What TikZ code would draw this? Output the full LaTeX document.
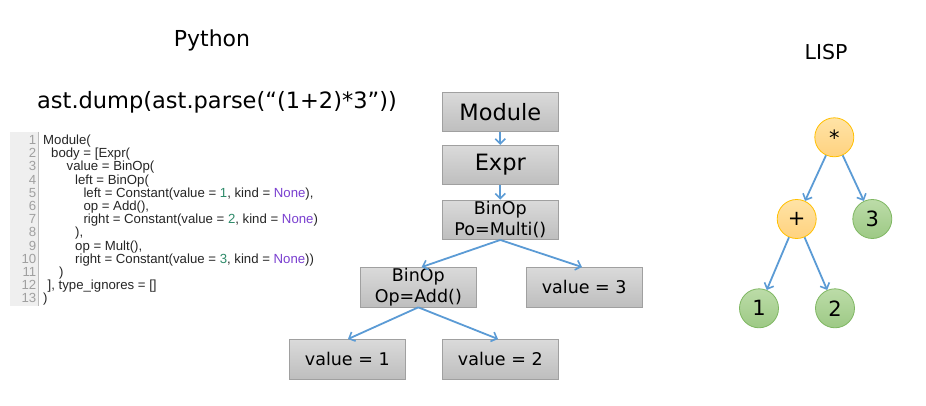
\documentclass[tikz,border=0pt]{standalone}
\usepackage{fontspec}
\setmainfont{DejaVu Sans}
\newfontfamily\codefont{Liberation Sans}
\usetikzlibrary{arrows.meta}
\definecolor{arr}{HTML}{5B9BD5}
\definecolor{boxtop}{HTML}{DADADA}
\definecolor{boxbot}{HTML}{BEBEBE}
\definecolor{boxline}{HTML}{A0A0A0}
\definecolor{ortop}{HTML}{FFE3A6}
\definecolor{orbot}{HTML}{FFD27F}
\definecolor{orline}{HTML}{FFC000}
\definecolor{grtop}{HTML}{BCDCA8}
\definecolor{grbot}{HTML}{9DC985}
\definecolor{grline}{HTML}{7FB762}
\definecolor{numgreen}{HTML}{2E8B6A}
\definecolor{nonepurple}{HTML}{7A3FD0}
\definecolor{lnum}{HTML}{A0A0A0}
\definecolor{gutter}{HTML}{EFEFEF}
\tikzset{
  x=1pt, y=-1pt,
  astbox/.style={draw=boxline, line width=0.8pt, top color=boxtop, bottom color=boxbot,
    minimum width=116pt, minimum height=39.5pt, inner sep=0pt, align=center},
  bigtxt/.style={font=\fontsize{22.5}{24}\selectfont},
  midtxt/.style={font=\fontsize{17.5}{21}\selectfont},
  orcirc/.style={circle, draw=orline, line width=0.8pt, top color=ortop, bottom color=orbot,
    minimum size=39pt, inner sep=0pt, font=\fontsize{21}{22}\selectfont},
  grcirc/.style={circle, draw=grline, line width=0.8pt, top color=grtop, bottom color=grbot,
    minimum size=39pt, inner sep=0pt, font=\fontsize{21}{22}\selectfont},
  conn/.style={draw=arr, line width=1.8pt, -{Straight Barb[length=5pt,width=10pt,line width=1.6pt]}},
  codeline/.style={anchor=base west, inner sep=0pt, text=black!85, font=\codefont\fontsize{13.2}{13}\selectfont},
  linenum/.style={anchor=base east, inner sep=0pt, text=lnum, font=\codefont\fontsize{13.2}{13}\selectfont},
}
\newcommand{\gn}[1]{\textcolor{numgreen}{#1}}
\newcommand{\pn}{\textcolor{nonepurple}{None}}
\begin{document}
\begin{tikzpicture}
\useasboundingbox (0,0) rectangle (926,406);
\fill[white] (0,0) rectangle (926,406);

% titles
\node[font=\fontsize{22}{24}\selectfont] (python) at (212,40) {Python};
\node[font=\fontsize{20.5}{22}\selectfont] (lisp) at (826,52) {LISP};
\node[font=\fontsize{22.5}{24}\selectfont] (dump) at (217,102) {ast.dump(ast.parse(“(1+2)*3”))};

% code gutter
\fill[gutter] (10,132) rectangle (38,306);
\draw[lnum!70, line width=0.6pt] (38,132) -- (38,306);

\foreach \i in {1,...,13} {
  \node[linenum] (ln\i) at (36.5, {144.5+13.2*(\i-1)}) {\i};
}
\node[codeline] (c1) at (43,144.5) {Module(};
\node[codeline] (c2) at (51,157.7) {body = [Expr(};
\node[codeline] (c3) at (66.5,170.9) {value = BinOp(};
\node[codeline] (c4) at (75,184.1) {left = BinOp(};
\node[codeline] (c5) at (83.3,197.3) {left = Constant(value = \gn{1}, kind = \pn),};
\node[codeline] (c6) at (83.3,210.5) {op = Add(),};
\node[codeline] (c7) at (83.3,223.7) {right = Constant(value = \gn{2}, kind = \pn)};
\node[codeline] (c8) at (75,236.9) {),};
\node[codeline] (c9) at (75,250.1) {op = Mult(),};
\node[codeline] (c10) at (75,263.3) {right = Constant(value = \gn{3}, kind = \pn))};
\node[codeline] (c11) at (59,276.5) {)};
\node[codeline] (c12) at (47.5,289.7) {], type\_ignores = []};
\node[codeline] (c13) at (43,302.9) {)};

% AST boxes
\node[astbox, bigtxt] (module) at (500.3,111.8) {Module};
\node[astbox, bigtxt] (expr) at (500.3,165) {Expr};
\node[astbox, midtxt] (mult) at (500.3,219.8) {BinOp\\Po=Multi()};
\node[astbox, midtxt] (add) at (418.3,287.2) {BinOp\\Op=Add()};
\node[astbox, midtxt] (v3) at (584.2,287.2) {value = 3};
\node[astbox, midtxt] (v1) at (347.3,359.2) {value = 1};
\node[astbox, midtxt] (v2) at (500.3,359.2) {value = 2};

\draw[conn] (module.south) -- (expr.north);
\draw[conn] (expr.south) -- (mult.north);
\draw[conn] (mult.south) -- ([xshift=3.4pt]add.north);
\draw[conn] (mult.south) -- ([xshift=-2.2pt]v3.north);
\draw[conn] (add.south) -- ([xshift=0.7pt]v1.north);
\draw[conn] (add.south) -- ([xshift=-2.3pt]v2.north);

% LISP tree
\node[orcirc] (star) at (834.3,137.3) {*};
\node[orcirc] (plus) at (796.7,219) {+};
\node[grcirc] (three) at (872.3,219) {3};
\node[grcirc] (one) at (759,308.3) {1};
\node[grcirc] (two) at (835,308.3) {2};

\draw[conn] (star) -- (plus);
\draw[conn] (star) -- (three);
\draw[conn] (plus) -- (one);
\draw[conn] (plus) -- (two);
\end{tikzpicture}
\end{document}
